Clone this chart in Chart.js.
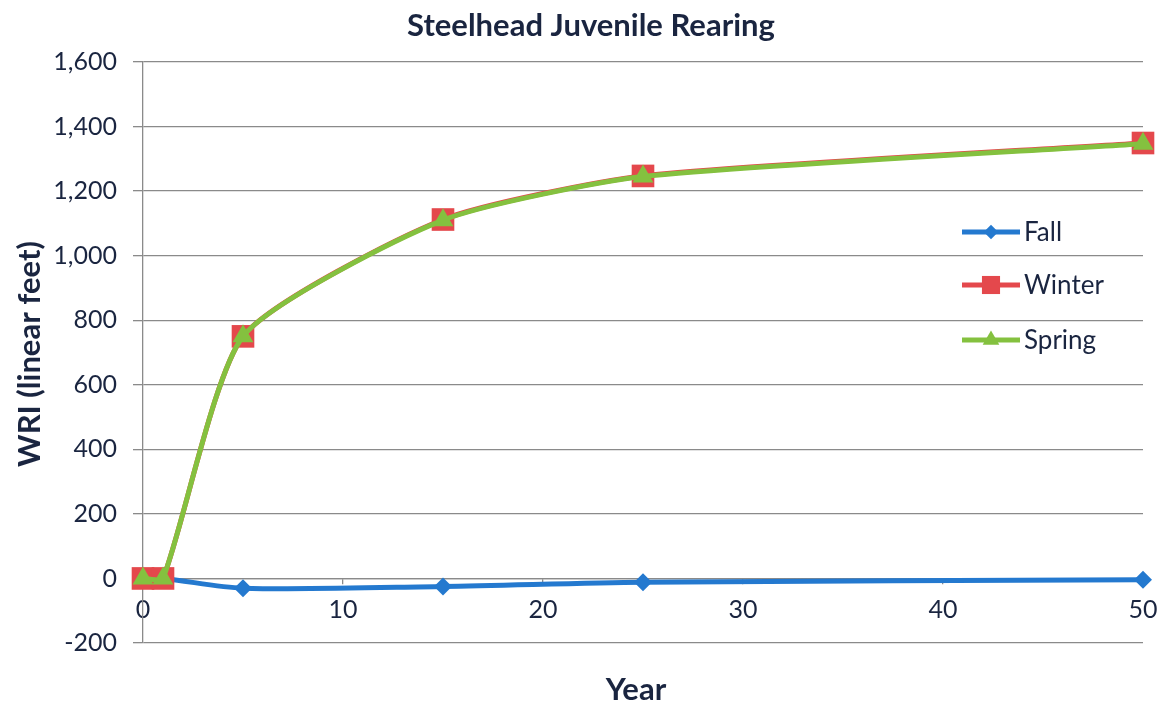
<!DOCTYPE html>
<html>
<head>
<meta charset="utf-8">
<script src="https://cdn.jsdelivr.net/npm/chart.js@4/dist/chart.umd.min.js"></script>
<style>
  html, body { margin: 0; padding: 0; background: #ffffff; }
  #wrap { width: 1162px; height: 711px; }
</style>
</head>
<body>
<div id="wrap"><canvas id="c" width="1162" height="711"></canvas></div>
<script>
// Rearing habitat (WRI, linear feet) by year after restoration
const years  = [0, 1, 5, 15, 25, 50];
const fall   = [0, 0, -30, -25, -12, -4];
const winter = [0, 0, 750, 1112, 1247, 1349];
const spring = [0, 0, 750, 1110, 1245, 1347];
const seriesNames = ['Fall', 'Winter', 'Spring'];

const yRange = [-200, 1600];
const yStep = 200;
const xRange = [0, 50];
const xStep = 10;

const chartTitle = 'Steelhead Juvenile Rearing';
const xTitle = 'Year';
const yTitle = 'WRI (linear feet)';

const FONT = 'Lato, "Open Sans", "DejaVu Sans", sans-serif';
const TEXT = '#1a2540';
const GRID = '#8a8a8a';
const colors = { Fall: '#2479cf', Winter: '#e4484c', Spring: '#84c13f' };
const markers = {
  Fall:   { pointStyle: 'rectRot',  radius: 9 },
  Winter: { pointStyle: 'rect',     radius: 16 },
  Spring: { pointStyle: 'triangle', radius: 12 }
};

function pts(vals) { return years.map((x, i) => ({ x: x, y: vals[i] })); }

function series(name, vals, order, tension) {
  return {
    label: name,
    data: pts(vals),
    borderColor: colors[name],
    backgroundColor: colors[name],
    pointBackgroundColor: colors[name],
    pointBorderColor: colors[name],
    pointBorderWidth: 0,
    pointStyle: markers[name].pointStyle,
    pointRadius: markers[name].radius,
    borderWidth: 5,
    tension: tension,
    clip: false,
    order: order
  };
}

// Titles and the in-plot legend
const decorations = {
  id: 'decorations',
  afterDraw(chart) {
    const ctx = chart.ctx;
    const area = chart.chartArea;
    ctx.save();
    ctx.fillStyle = TEXT;
    ctx.textAlign = 'center';
    ctx.textBaseline = 'middle';
    ctx.font = 'bold 31px ' + FONT;
    ctx.fillText(chartTitle, 591, 26);
    ctx.fillText(xTitle, 636, 690);
    ctx.save();
    ctx.translate(30, 354);
    ctx.rotate(-Math.PI / 2);
    ctx.fillText(yTitle, 0, 0);
    ctx.restore();

    // legend
    const lx = area.right - 181;
    const rows = [232, 285, 340];
    chart.data.datasets.forEach((ds, i) => {
      const y = rows[i];
      ctx.strokeStyle = ds.borderColor;
      ctx.lineWidth = 5;
      ctx.beginPath();
      ctx.moveTo(lx, y);
      ctx.lineTo(lx + 58, y);
      ctx.stroke();
      ctx.fillStyle = ds.borderColor;
      Chart.helpers.drawPoint(ctx, {
        pointStyle: ds.pointStyle,
        radius: ds.pointRadius * 0.8,
        borderWidth: 0,
        rotation: 0
      }, lx + 29, y);
      ctx.fillStyle = TEXT;
      ctx.textAlign = 'left';
      ctx.font = '26px ' + FONT;
      ctx.fillText(ds.label, lx + 62, y + 1);
    });
    ctx.restore();
  }
};

new Chart(document.getElementById('c'), {
  type: 'line',
  data: {
    datasets: [
      series(seriesNames[0], fall, 2, 0.3),
      series(seriesNames[1], winter, 1, 0.2),
      series(seriesNames[2], spring, 0, 0.2)
    ]
  },
  options: {
    responsive: false,
    animation: false,
    devicePixelRatio: 1,
    layout: { autoPadding: false, padding: { left: 0, right: 19, top: 62, bottom: 68 } },
    plugins: {
      legend: { display: false },
      title: { display: false },
      tooltip: { enabled: false }
    },
    scales: {
      x: {
        type: 'linear',
        position: { y: 0 },
        min: xRange[0],
        max: xRange[1],
        afterFit(scale) { scale.paddingLeft = 0; scale.paddingRight = 0; },
        ticks: {
          stepSize: xStep,
          color: TEXT,
          font: { family: FONT, size: 25 },
          padding: 11,
          maxRotation: 0
        },
        grid: { drawOnChartArea: false, color: GRID, tickLength: 5, lineWidth: 1.3 },
        border: { display: true, color: GRID, width: 1.3 }
      },
      y: {
        type: 'linear',
        min: yRange[0],
        max: yRange[1],
        afterFit(scale) { scale.width = 143; },
        ticks: {
          stepSize: yStep,
          color: TEXT,
          font: { family: FONT, size: 25 },
          padding: 16,
          callback: v => v.toLocaleString('en-US')
        },
        grid: { color: GRID, lineWidth: 1.3, tickLength: 10 },
        border: { display: true, color: GRID, width: 1.3 }
      }
    }
  },
  plugins: [decorations]
});
</script>
</body>
</html>
